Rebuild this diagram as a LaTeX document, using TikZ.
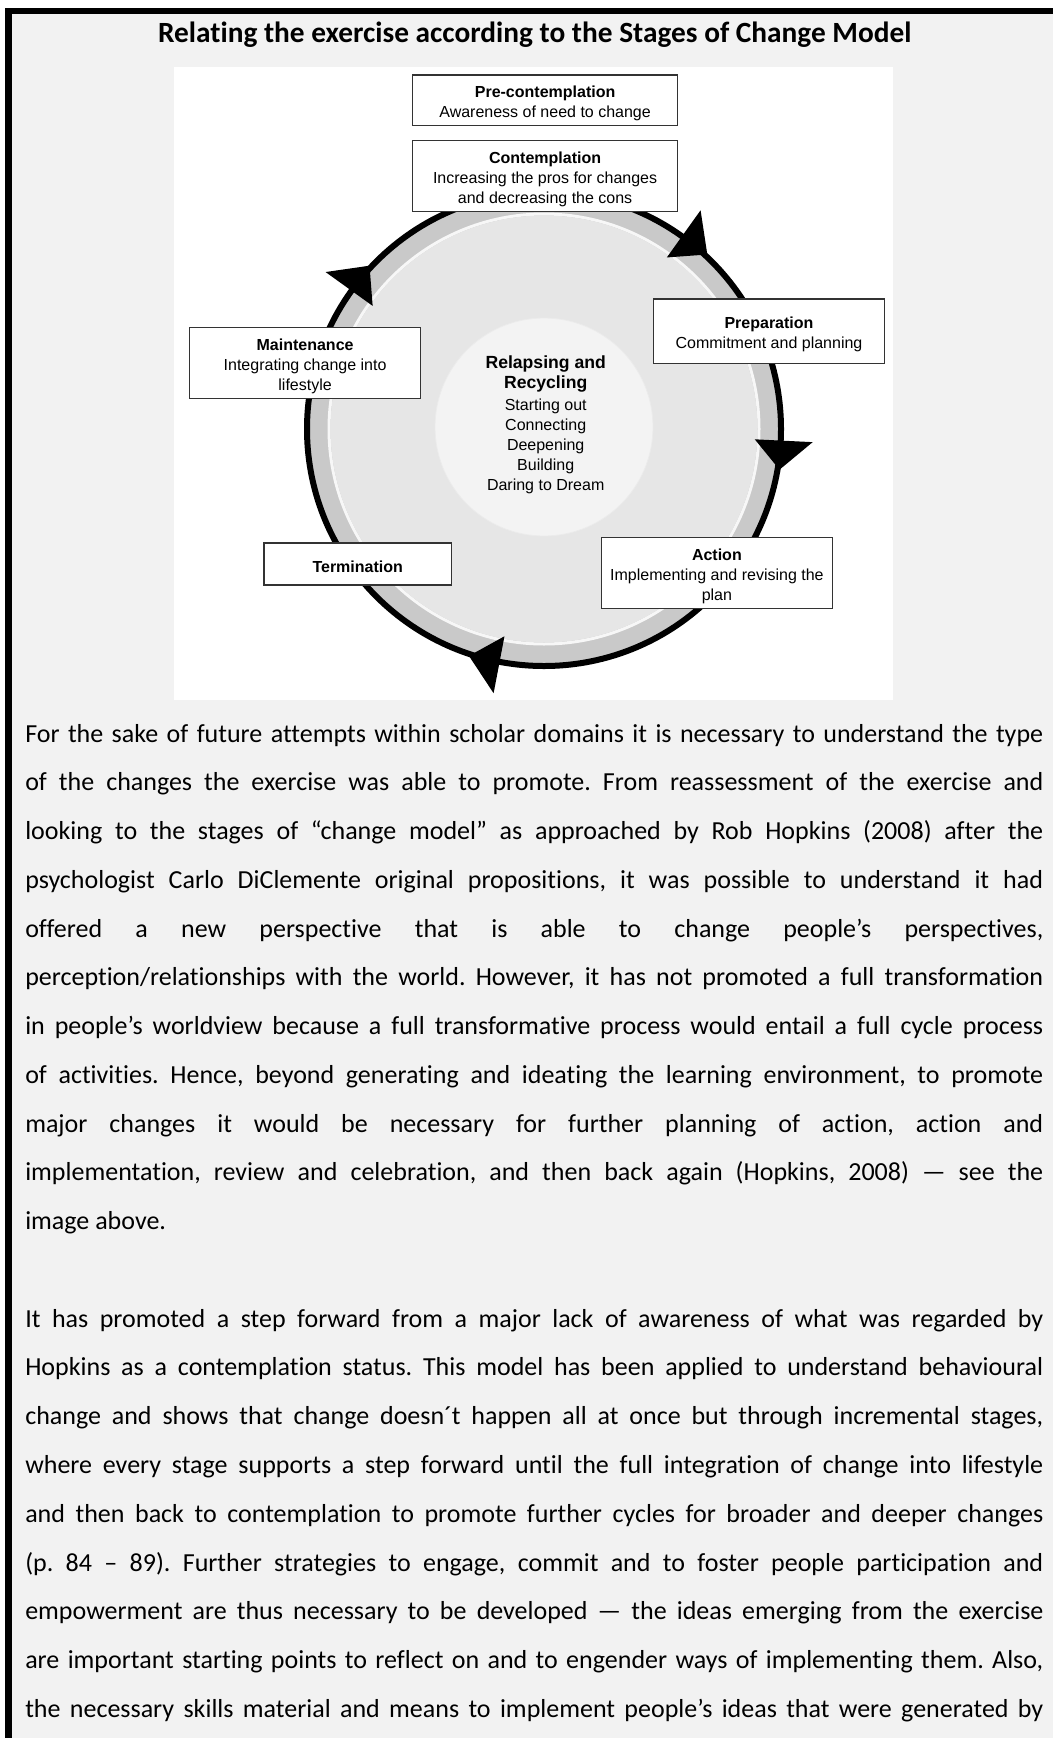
\documentclass[tikz,border=0pt]{standalone}
\usepackage{fontspec}
\setmainfont{Carlito}[Ligatures={TeX,NoCommon}]
\newfontfamily\arialf{Liberation Sans}
\usetikzlibrary{calc}
\definecolor{pagebg}{HTML}{F2F2F2}
\definecolor{bandgray}{HTML}{C9C9C9}
\definecolor{innergray}{HTML}{E6E6E6}
\definecolor{hubgray}{HTML}{F3F3F3}
\definecolor{hubedge}{HTML}{EBEBEB}
\definecolor{sheen}{HTML}{F7F7F7}
\definecolor{boxline}{HTML}{333333}
\hbadness=10000
\frenchspacing
\newcommand{\hubhead}[1]{{\bfseries\fontsize{13.2pt}{15pt}\selectfont #1}}
\begin{document}
\begin{tikzpicture}[x=0.75pt,y=-0.75pt,
  stagebox/.style={draw=boxline, line width=1.1pt, fill=white, inner sep=0pt},
  stagetext/.style={align=center, inner sep=0pt, yshift=-2.5pt,
    font=\arialf\fontsize{12pt}{15pt}\selectfont},
  hubtext/.style={align=center, inner sep=0pt, font=\arialf\fontsize{12pt}{15pt}\selectfont},
  bodytext/.style={anchor=base west, inner sep=0pt, text width=763.5pt, align=justify,
    font=\fontsize{19.5pt}{36.58pt}\selectfont},
  arrowtip/.style={fill=black}]
\useasboundingbox (0,0) rectangle (1053,1738);
% page frame
\fill[white] (0,0) rectangle (1053,1738);
\fill[black] (5,8) rectangle (1053,1738);
\fill[pagebg] (12,14) rectangle (1053,1738);
% title
\node[anchor=base, inner sep=0pt, font=\bfseries\fontsize{22pt}{26pt}\selectfont] (title) at (534.8,42)
  {Relating the exercise according to the Stages of Change Model};
% diagram panel
\fill[white] (174,66.5) rectangle (893,700);
\coordinate (c) at (544,429);
\fill[bandgray] (c) circle[radius=235];
\draw[sheen, line width=2.25pt] (c) circle[radius=215];
\fill[innergray] (c) circle[radius=213.5];
\draw[black, line width=4.5pt] (c) circle[radius=237];
\coordinate (hc) at (544,427);
\fill[hubgray] (hc) circle[radius=109];
\draw[hubedge, line width=0.6pt] (hc) circle[radius=109];
% arrowheads (clockwise)
\fill[arrowtip] ($(c)+(-54.4:211)$) -- ($(c)+(-54.4:269)$) -- ($(c)+(-46.9:239)$) -- cycle;
\fill[arrowtip] ($(c)+(2.8:211)$) -- ($(c)+(2.8:269)$) -- ($(c)+(9.8:239)$) -- cycle;
\fill[arrowtip] ($(c)+(100.8:211)$) -- ($(c)+(100.8:269)$) -- ($(c)+(108.3:239)$) -- cycle;
\fill[arrowtip] ($(c)+(215.7:211)$) -- ($(c)+(215.7:269)$) -- ($(c)+(223.1:239)$) -- cycle;
% stage boxes
\node[stagebox, minimum width=198.9pt, minimum height=38pt] (pre) at (545.1,100.35) {};
\node[stagetext] (pre-t) at (pre.center) {\textbf{Pre-contemplation}\\Awareness of need to change};
\node[stagebox, minimum width=198.9pt, minimum height=53.55pt] (cont) at (545.1,176) {};
\node[stagetext] (cont-t) at (cont.center) {\textbf{Contemplation}\\Increasing the pros for changes\\and decreasing the cons};
\node[stagebox, minimum width=173.1pt, minimum height=48.2pt] (prep) at (769,331.2) {};
\node[stagetext] (prep-t) at (prep.center) {\textbf{Preparation}\\Commitment and planning};
\node[stagebox, minimum width=173.1pt, minimum height=53.25pt] (maint) at (305.1,362.8) {};
\node[stagetext] (maint-t) at (maint.center) {\textbf{Maintenance}\\Integrating change into\\lifestyle};
\node[stagebox, minimum width=140.85pt, minimum height=31.7pt] (term) at (357.7,563.9) {};
\node[stagetext] (term-t) at (term.center) {\textbf{Termination}};
\node[stagebox, minimum width=173.5pt, minimum height=53.25pt] (act) at (716.9,572.8) {};
\node[stagetext] (act-t) at (act.center) {\textbf{Action}\\Implementing and revising the\\plan};
% hub text
\node[hubtext] (hub) at (545.7,425)
  {\hubhead{Relapsing and}\\\hubhead{Recycling}\\[1.5pt]Starting out\\Connecting\\Deepening\\Building\\Daring to Dream};
% body text
\node[bodytext] (para1) at (25,742) {For the sake of future attempts within scholar domains it is necessary to understand the type\linebreak
of the changes the exercise was able to promote. From reassessment of the exercise and\linebreak
looking to the stages of “change model” as approached by Rob Hopkins (2008) after the\linebreak
psychologist Carlo DiClemente original propositions, it was possible to understand it had\linebreak
offered a new perspective that is able to change people’s perspectives,\linebreak
perception/relationships with the world. However, it has not promoted a full transformation\linebreak
in people’s worldview because a full transformative process would entail a full cycle process\linebreak
of activities. Hence, beyond generating and ideating the learning environment, to promote\linebreak
major changes it would be necessary for further planning of action, action and\linebreak
implementation, review and celebration, and then back again (Hopkins, 2008) — see the\linebreak
image above.};
\node[bodytext] (para2) at (25,1327.2) {It has promoted a step forward from a major lack of awareness of what was regarded by\linebreak
Hopkins as a contemplation status. This model has been applied to understand behavioural\linebreak
change and shows that change doesn´t happen all at once but through incremental stages,\linebreak
where every stage supports a step forward until the full integration of change into lifestyle\linebreak
and then back to contemplation to promote further cycles for broader and deeper changes\linebreak
(p. 84 – 89). Further strategies to engage, commit and to foster people participation and\linebreak
empowerment are thus necessary to be developed — the ideas emerging from the exercise\linebreak
are important starting points to reflect on and to engender ways of implementing them. Also,\linebreak
the necessary skills material and means to implement people’s ideas that were generated by\parfillskip=0pt\par};
\end{tikzpicture}
\end{document}
